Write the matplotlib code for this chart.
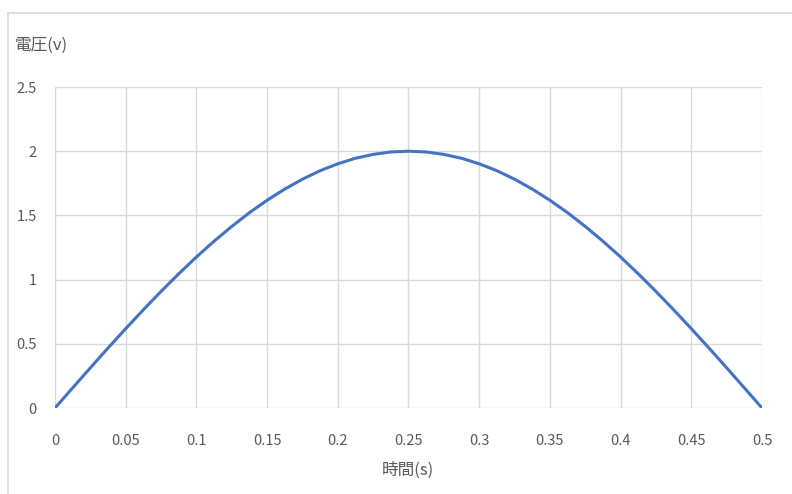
import matplotlib.pyplot as plt
from matplotlib.lines import Line2D

plt.rcParams['font.family'] = ['Noto Sans CJK JP', 'DejaVu Sans']

# time (s) and voltage (v), sampled every 0.0125 s
time_s = [i * 0.0125 for i in range(41)]
volt_rise = [0.0, 0.157, 0.313, 0.467, 0.618, 0.765, 0.908, 1.045, 1.176,
             1.299, 1.414, 1.521, 1.618, 1.705, 1.782, 1.848, 1.902, 1.945,
             1.975, 1.994, 2.0]
voltage = volt_rise + volt_rise[-2::-1]

x_ticks = [0, 0.05, 0.1, 0.15, 0.2, 0.25, 0.3, 0.35, 0.4, 0.45, 0.5]
x_labels = ['0', '0.05', '0.1', '0.15', '0.2', '0.25', '0.3', '0.35', '0.4', '0.45', '0.5']
y_ticks = [0, 0.5, 1, 1.5, 2, 2.5]
y_labels = ['0', '0.5', '1', '1.5', '2', '2.5']

text_col = '#595959'
grid_col = '#d9d9d9'

fig = plt.figure(figsize=(7.92, 4.94), dpi=100)
ax = fig.add_axes([55 / 792, 1 - 408 / 494, 707 / 792, 321 / 494])

ax.plot(time_s, voltage, color='#4472c4', linewidth=2.2, zorder=3,
        solid_capstyle='round', solid_joinstyle='round')

ax.set_xlim(0, 0.5)
ax.set_ylim(0, 2.5)
ax.set_xticks(x_ticks)
ax.set_xticklabels(x_labels)
ax.set_yticks(y_ticks)
ax.set_yticklabels(y_labels)
ax.tick_params(length=0, labelsize=10.5, colors=text_col, pad=13)
ax.tick_params(axis='x', pad=19)
ax.grid(True, color=grid_col, linewidth=1.0)
for sp in ax.spines.values():
    sp.set_visible(False)

fig.text(15 / 792, 1 - 45 / 494, '電圧(v)', fontsize=12, color=text_col,
         ha='left', va='center')
fig.text(408 / 792, 1 - 470 / 494, '時間(s)', fontsize=12, color=text_col,
         ha='center', va='center')

# outer chart frame (top and left edges)
fig.add_artist(Line2D([8 / 792, 1], [1 - 13 / 494] * 2, color=grid_col,
                      linewidth=1.2, transform=fig.transFigure))
fig.add_artist(Line2D([8 / 792] * 2, [0, 1 - 13 / 494], color=grid_col,
                      linewidth=1.2, transform=fig.transFigure))

fig.savefig('out.png', dpi=100)
